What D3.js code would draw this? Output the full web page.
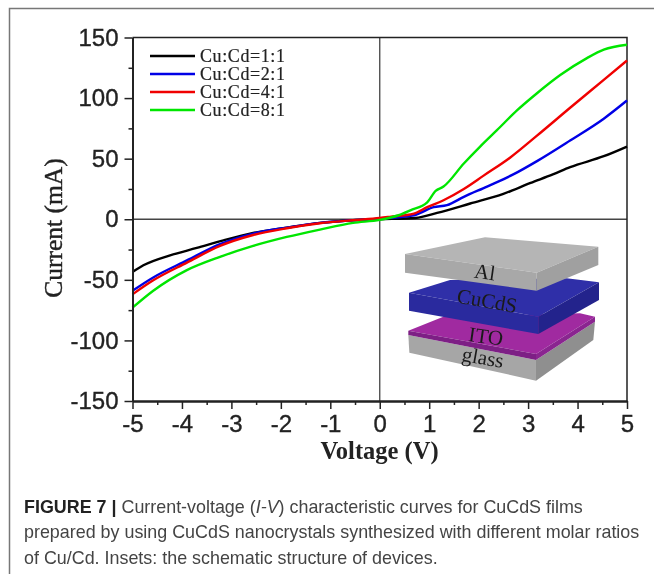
<!DOCTYPE html>
<html>
<head>
<meta charset="utf-8">
<script src="https://cdn.jsdelivr.net/npm/d3@7"></script>
<style>
  body { margin: 0; background: #fff; }
  svg { display: block; filter: blur(0.45px); }
</style>
</head>
<body>
<svg id="chart" width="654" height="574"></svg>
<script>
var legendLabels = ["Cu:Cd=1:1", "Cu:Cd=2:1", "Cu:Cd=4:1", "Cu:Cd=8:1"];
var lineColors = ["#000000", "#0000e6", "#f00000", "#00e600"];

var xTicks = [-5, -4, -3, -2, -1, 0, 1, 2, 3, 4, 5];
var xMinorTicks = [-4.5, -3.5, -2.5, -1.5, -0.5, 0.5, 1.5, 2.5, 3.5, 4.5];
var yTicks = [-150, -100, -50, 0, 50, 100, 150];
var yMinorTicks = [-125, -75, -25, 25, 75, 125];

var black = [[-5,-43.5],[-4.78,-38],[-4.24,-29.8],[-3.7,-23.7],[-3.16,-17.4],[-2.56,-11.3],[-1.88,-6.9],[-1.21,-3],[-0.54,-0.8],[0,0],[0.72,1],[1.16,5.2],[1.83,13],[2.5,21],[3.05,30],[3.5,37],[3.85,43],[4.53,52],[5,60]];
var blue = [[-5,-59],[-4.58,-48],[-3.9,-34],[-3.23,-20.5],[-2.56,-11.8],[-1.88,-6.9],[-1.21,-3],[-0.54,-0.8],[0,0.5],[0.69,3.3],[1.09,10],[1.36,11.6],[1.7,18.5],[2.17,27],[2.7,37],[3.18,48],[3.85,65],[4.53,83],[5,98]];
var red = [[-5,-62],[-4.58,-50.4],[-3.9,-35.8],[-3.23,-22],[-2.56,-13],[-1.88,-7.4],[-1.21,-3.3],[-0.54,-0.8],[0,1],[0.2,2],[0.69,4.7],[0.96,10],[1.29,15.7],[1.7,25],[2.1,36],[2.64,51],[3.18,69],[3.85,92],[4.53,115],[5,131]];
var green = [[-5,-73],[-4.58,-59],[-3.9,-42],[-3.23,-31],[-2.56,-22],[-1.88,-14.6],[-1.21,-8.5],[-0.54,-3],[0,-0.5],[0.38,3.3],[0.62,7.4],[0.96,14],[1.13,23.4],[1.29,27],[1.7,46],[2.03,60],[2.37,73.5],[2.78,90],[3.18,104],[3.65,119],[4.19,133],[4.53,140],[5,144]];
var seriesList = [black, blue, red, green];

var svg = d3.select("#chart");

// page frame of the figure box
svg.append("path")
    .attr("d", "M9.5,574V8.5H654")
    .attr("fill", "none")
    .attr("stroke", "#777")
    .attr("stroke-width", 1.5);

var x = d3.scaleLinear().domain([-5, 5]).range([132.5, 627]);
var y = d3.scaleLinear().domain([-150, 150]).range([401, 37.5]);

// inset: layered device sketch, pixel geometry of the illustration
var inset = svg.append("g").attr("transform", "translate(380,220) scale(0.3333)");
var faces = [
  ["#a6a6a6", "85,345 468,420 468,482 88,398"],
  ["#8f8f8f", "468,420 645,305 640,360 468,482"],
  ["#a02aa0", "85,332 190,290 600,280 645,290 468,402"],
  ["#7d1f85", "85,332 468,402 468,420 85,345"],
  ["#8a2590", "468,402 645,290 645,305 468,420"],
  ["#2f2fa8", "87,218 210,180 560,175 657,187 475,290"],
  ["#2a2a9e", "87,218 475,290 475,342 87,272"],
  ["#23238c", "475,290 657,187 657,240 475,342"],
  ["#b5b5b5", "75,102 315,52 655,80 470,158"],
  ["#a8a8a8", "75,102 470,158 470,212 75,158"],
  ["#a0a0a0", "470,158 655,80 655,135 470,212"]
];
inset.selectAll("polygon")
    .data(faces)
  .enter()
  .append("polygon")
    .attr("points", d => d[1])
    .attr("fill", d => d[0]);

var insetLabels = [
  ["Al", 312, 177, 8],
  ["CuCdS", 318, 263, 10],
  ["ITO", 315, 370, 8],
  ["glass", 305, 433, 10]
];
inset.selectAll("text")
    .data(insetLabels)
  .enter()
  .append("text")
    .attr("transform", d => "translate(" + d[1] + "," + d[2] + ") rotate(" + d[3] + ")")
    .attr("text-anchor", "middle")
    .attr("font-family", "Liberation Serif")
    .attr("font-size", 63)
    .attr("fill", "#1a1a1a")
    .text(d => d[0]);

// centre lines
svg.append("line")
    .attr("x1", x(-5)).attr("x2", x(5))
    .attr("y1", y(0)).attr("y2", y(0))
    .attr("stroke", "#444").attr("stroke-width", 1.3);
svg.append("line")
    .attr("x1", x(0)).attr("x2", x(0))
    .attr("y1", y(-150)).attr("y2", y(150))
    .attr("stroke", "#444").attr("stroke-width", 1.3);

// top and right edges
svg.append("path")
    .attr("d", "M" + x(-5) + "," + y(150) + "H" + x(5) + "V" + y(-150))
    .attr("fill", "none")
    .attr("stroke", "#222")
    .attr("stroke-width", 1.5);

var line = d3.line()
    .x(d => x(d[0]))
    .y(d => y(d[1]))
    .curve(d3.curveMonotoneX);

svg.selectAll(".curve")
    .data(seriesList)
  .enter()
  .append("path")
    .classed("curve", true)
    .attr("d", line)
    .attr("fill", "none")
    .attr("stroke", (d, i) => lineColors[i])
    .attr("stroke-width", 2.4);

function styleAxis(g, size) {
  g.select(".domain").attr("stroke", "#222").attr("stroke-width", 1.8);
  g.selectAll(".tick line").attr("stroke", "#222").attr("stroke-width", 1.5);
  g.selectAll(".tick text")
      .attr("font-family", "Liberation Sans")
      .attr("font-size", size)
      .attr("fill", "#222")
      .attr("stroke", "#222")
      .attr("stroke-width", 0.35);
}

svg.append("g")
    .attr("transform", "translate(0," + y(-150) + ")")
    .call(d3.axisBottom(x).tickValues(xMinorTicks).tickSize(4).tickFormat("").tickSizeOuter(0))
    .call(g => styleAxis(g, 0));
svg.append("g")
    .attr("transform", "translate(0," + y(-150) + ")")
    .call(d3.axisBottom(x).tickValues(xTicks).tickSize(8).tickPadding(6).tickSizeOuter(0).tickFormat(d => d < 0 ? "-" + Math.abs(d) : d))
    .call(g => styleAxis(g, 24));

svg.append("g")
    .attr("transform", "translate(" + x(-5) + ",0)")
    .call(d3.axisLeft(y).tickValues(yMinorTicks).tickSize(4).tickFormat("").tickSizeOuter(0))
    .call(g => styleAxis(g, 0));
svg.append("g")
    .attr("transform", "translate(" + x(-5) + ",0)")
    .call(d3.axisLeft(y).tickValues(yTicks).tickSize(8).tickPadding(6).tickSizeOuter(0).tickFormat(d => d < 0 ? "-" + Math.abs(d) : d))
    .call(g => styleAxis(g, 24));

// axis titles
svg.append("text")
    .attr("x", 379.5)
    .attr("y", 459)
    .attr("text-anchor", "middle")
    .attr("font-family", "Liberation Serif")
    .attr("font-weight", "bold")
    .attr("font-size", 24.5)
    .attr("fill", "#222")
    .text("Voltage (V)");
svg.append("text")
    .attr("transform", "translate(62,228) rotate(-90)")
    .attr("text-anchor", "middle")
    .attr("font-family", "Liberation Serif")
    .attr("font-size", 25.5)
    .attr("fill", "#222")
    .attr("stroke", "#222")
    .attr("stroke-width", 0.4)
    .text("Current (mA)");

// legend
var legendY = d3.scalePoint().domain(legendLabels).range([56, 110]);
var legend = svg.selectAll(".legend")
    .data(legendLabels)
  .enter()
  .append("g")
    .classed("legend", true)
    .attr("transform", d => "translate(0," + legendY(d) + ")");
legend.append("line")
    .attr("x1", 150).attr("x2", 195)
    .attr("stroke", (d, i) => lineColors[i])
    .attr("stroke-width", 2.4);
legend.append("text")
    .attr("x", 200)
    .attr("y", 6)
    .attr("font-family", "Liberation Serif")
    .attr("font-size", 18)
    .attr("letter-spacing", 0.6)
    .attr("fill", "#222")
    .attr("stroke", "#222")
    .attr("stroke-width", 0.2)
    .text(d => d);

// caption
var caption = svg.append("text")
    .attr("font-family", "Liberation Sans")
    .attr("font-size", 17.9)
    .attr("fill", "#444");
var line1 = caption.append("tspan").attr("x", 24).attr("y", 513);
line1.append("tspan").attr("font-weight", "bold").attr("fill", "#222").text("FIGURE 7 | ");
line1.append("tspan").text("Current-voltage (");
line1.append("tspan").attr("font-style", "italic").text("I-V");
line1.append("tspan").text(") characteristic curves for CuCdS films");
caption.append("tspan").attr("x", 24).attr("y", 538)
    .text("prepared by using CuCdS nanocrystals synthesized with different molar ratios");
caption.append("tspan").attr("x", 24).attr("y", 564)
    .text("of Cu/Cd. Insets: the schematic structure of devices.");
</script>
</body>
</html>
